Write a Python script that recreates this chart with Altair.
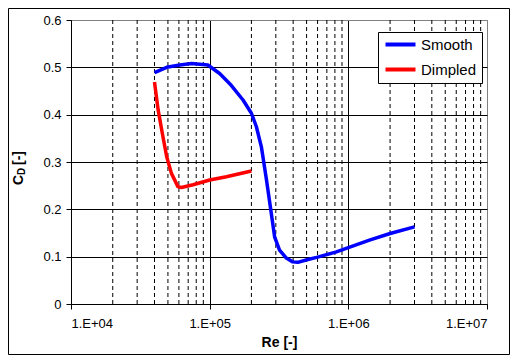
import altair as alt
import pandas as pd

# ---- data ----
smooth_re = [4.0e4, 4.9e4, 6.1e4, 7.4e4, 9.7e4, 1.18e5, 1.43e5, 1.74e5, 2.0e5, 2.17e5,
             2.36e5, 2.56e5, 2.78e5, 2.94e5, 3.19e5, 3.57e5, 3.97e5, 4.32e5, 4.96e5,
             6.0e5, 8.2e5, 1.0e6, 1.42e6, 2.0e6, 3.0e6]
smooth_cd = [0.489, 0.500, 0.505, 0.508, 0.505, 0.487, 0.462, 0.431, 0.403, 0.375,
             0.332, 0.265, 0.192, 0.142, 0.114, 0.097, 0.089, 0.088, 0.093,
             0.099, 0.110, 0.119, 0.135, 0.149, 0.163]

dimpled_re = [4.0e4, 4.25e4, 4.6e4, 4.9e4, 5.3e4, 5.9e4, 6.25e4, 7.6e4, 1.0e5, 1.32e5, 2.0e5]
dimpled_cd = [0.469, 0.410, 0.354, 0.311, 0.276, 0.248, 0.246, 0.252, 0.262, 0.269, 0.281]

series_names = ["Smooth", "Dimpled"]
series_colors = ["#0000FF", "#FF0000"]

x_major = [1e4, 1e5, 1e6, 1e7]
x_minor = [m * d for d in (1e4, 1e5, 1e6) for m in range(2, 10)]
y_ticks = [0, 0.1, 0.2, 0.3, 0.4, 0.5, 0.6]

FONT = "Liberation Sans"

rows = []
for i, (r, c) in enumerate(zip(smooth_re, smooth_cd)):
    rows.append({"Re": r, "Cd": c, "series": "Smooth", "i": i})
for i, (r, c) in enumerate(zip(dimpled_re, dimpled_cd)):
    rows.append({"Re": r, "Cd": c, "series": "Dimpled", "i": i})
df = pd.DataFrame(rows)

xscale = alt.Scale(type="log", domain=[1e4, 1e7], nice=False)
yscale = alt.Scale(domain=[0, 0.6], nice=False, zero=False)

x_axis = alt.Axis(
    values=x_major,
    labelExpr="'1.E+0' + round(log(datum.value)/LN10)",
    title="Re [-]",
    grid=True,
    gridColor={"condition": {"test": "datum.value > 5e6", "value": "#808080"}, "value": "black"},
    gridWidth=1,
    tickSize=5,
    tickColor="black",
    domainColor="black",
    labelPadding=8,
    labelFontSize=13,
    labelFont=FONT,
    labelColor="black",
    titleFont=FONT,
    titleFontSize=14,
    titleFontWeight="bold",
    titleColor="black",
    titlePadding=5,
)
y_axis = alt.Axis(
    values=y_ticks,
    format=".1~f",
    title="",
    grid=True,
    gridColor={"condition": {"test": "datum.value > 0.55", "value": "#808080"}, "value": "black"},
    gridWidth=1,
    tickSize=5,
    tickColor="black",
    domainColor="black",
    labelPadding=5,
    labelFontSize=13,
    labelFont=FONT,
    labelColor="black",
)

minor = alt.Chart(pd.DataFrame({"v": x_minor})).mark_rule(
    color="black", strokeWidth=1, strokeDash=[4, 3]
).encode(x=alt.X("v:Q", scale=xscale, axis=x_axis))

lines = alt.Chart(df).mark_line(strokeWidth=3.5, strokeJoin="round").encode(
    x=alt.X("Re:Q", scale=xscale, axis=x_axis),
    y=alt.Y("Cd:Q", scale=yscale, axis=y_axis),
    color=alt.Color(
        "series:N",
        scale=alt.Scale(domain=series_names, range=series_colors),
        sort=series_names,
        title=None,
        legend=alt.Legend(
            orient="none",
            legendX=307,
            legendY=12,
            fillColor="white",
            strokeColor="black",
            padding=5,
            symbolType="M-1,0H5",
            symbolSize=100,
            symbolStrokeWidth=4,
            labelFont=FONT,
            labelFontSize=15,
            labelColor="black",
            labelOffset=23,
            rowPadding=8,
        ),
    ),
    order=alt.Order("i:Q"),
)

one = pd.DataFrame({"a": [0]})
border = alt.Chart(one).mark_rect(fill="transparent", stroke="black", strokeWidth=1).encode(
    x=alt.value(-62.5), x2=alt.value(438.5), y=alt.value(-11.5), y2=alt.value(334.5)
)

def ytitle(txt, x, y, size):
    return alt.Chart(one).mark_text(
        angle=270, align="left", baseline="alphabetic", font=FONT,
        fontWeight="bold", fontSize=size, color="black"
    ).encode(x=alt.value(x), y=alt.value(y), text=alt.value(txt))

t1 = ytitle("C", -48, 165, 14)
t2 = ytitle("D", -46, 155, 10)
t3 = ytitle("[-]", -48, 145, 14)

chart = alt.layer(minor, lines, border, t1, t2, t3).properties(
    width=416,
    height=284,
    padding={"left": 63, "top": 12, "right": 23, "bottom": 51},
    autosize=alt.AutoSizeParams(type="none"),
    background="white",
).configure_view(stroke="#808080", strokeWidth=1)

chart.save("out.html", embed_options={"renderer": "svg", "actions": False})
